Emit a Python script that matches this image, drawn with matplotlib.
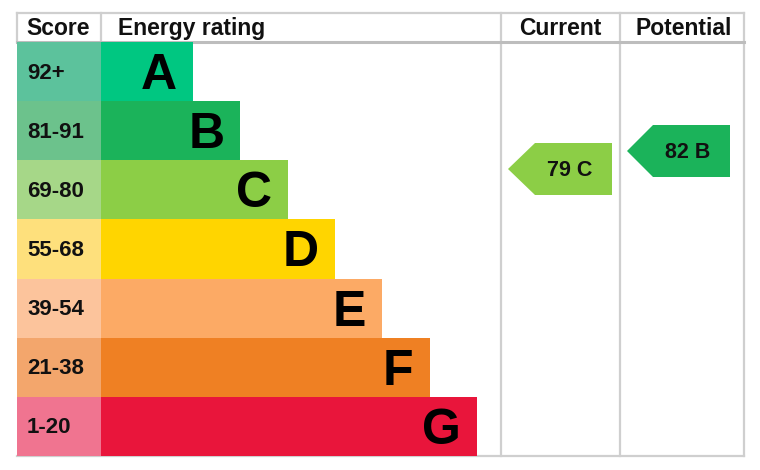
import matplotlib
matplotlib.use("Agg")
import matplotlib.pyplot as plt
from matplotlib.patches import Rectangle, Polygon

plt.rcParams['font.family'] = ['Liberation Sans', 'DejaVu Sans']

# ---- data ----
bands = ["A", "B", "C", "D", "E", "F", "G"]
score_ranges = ["92+", "81-91", "69-80", "55-68", "39-54", "21-38", "1-20"]
bar_colors = ["#00c781", "#1bb35a", "#8cce46", "#ffd500", "#fcaa65", "#ef8023", "#e9153b"]
score_colors = ["#5cc29c", "#6cc28c", "#a6d788", "#fee07c", "#fcc49c", "#f3a66c", "#f07490"]
current_score = 79
current_band = "C"
potential_score = 82
potential_band = "B"
headers = ["Score", "Energy rating", "Current", "Potential"]

# ---- layout (pixels) ----
W, H = 760, 470
left, top, right, bottom = 17, 13, 744, 456
header_bottom = 42
score_right = 101
col1, col2 = 501, 620
row_h = (bottom - header_bottom) / len(bands)
bar_end0, bar_step = 193, 47.3

fig = plt.figure(figsize=(W / 100, H / 100), dpi=100)
ax = fig.add_axes([0, 0, 1, 1])
ax.set_xlim(0, W)
ax.set_ylim(H, 0)
ax.axis("off")

grid = "#cfcfcf"
for x in (col1, col2, right):
    ax.plot([x, x], [top, bottom], color=grid, lw=1.6, zorder=1)
ax.plot([left, left], [top, header_bottom], color=grid, lw=1.6, zorder=1)
ax.plot([score_right, score_right], [top, header_bottom], color=grid, lw=1.6, zorder=1)
ax.plot([left, right], [top, top], color=grid, lw=1.6, zorder=1)
ax.plot([left, right], [header_bottom, header_bottom], color="#bdbdbd", lw=2.2, zorder=1)
ax.plot([left, right], [bottom, bottom], color=grid, lw=1.6, zorder=1)

# headers
hb = 35
hfs = 16.5
ax.text(26, hb, headers[0], fontsize=hfs, fontweight="bold", ha="left", va="baseline", color="#111")
ax.text(118, hb, headers[1], fontsize=hfs, fontweight="bold", ha="left", va="baseline", color="#111")
ax.text((col1 + col2) / 2, hb, headers[2], fontsize=hfs, fontweight="bold", ha="center", va="baseline", color="#111")
ax.text((col2 + right) / 2 + 2, hb, headers[3], fontsize=hfs, fontweight="bold", ha="center", va="baseline", color="#111")

# bands
for i, (b, sr, bc, sc) in enumerate(zip(bands, score_ranges, bar_colors, score_colors)):
    y0 = header_bottom + i * row_h
    yc = y0 + row_h / 2
    x_end = bar_end0 + i * bar_step
    ax.add_patch(Rectangle((left, y0), score_right - left, row_h, facecolor=sc, edgecolor="none", zorder=2))
    ax.add_patch(Rectangle((score_right, y0), x_end - score_right, row_h, facecolor=bc, edgecolor="none", zorder=2))
    ax.text(27, yc + 7, sr, fontsize=16, fontweight="bold", ha="left", va="baseline", color="#111", zorder=3)
    ax.text(x_end - 16, yc + 17.5, b, fontsize=36, fontweight="bold", ha="right", va="baseline", color="#000", zorder=3)


def score_y(s):
    return 169 - (s - 79) * 6.0


def arrow(x_tip, x_body, x_right, yc, color, label):
    h = 26
    pts = [(x_tip, yc), (x_body, yc - h), (x_right, yc - h), (x_right, yc + h), (x_body, yc + h)]
    ax.add_patch(Polygon(pts, closed=True, facecolor=color, edgecolor="none", zorder=3))
    ax.text((x_body + x_right) / 2 - 4, yc + 7.5, label, fontsize=15.5, fontweight="bold", ha="center", va="baseline", color="#111", zorder=4)


arrow(508, 535, 612, score_y(current_score), bar_colors[bands.index(current_band)], f"{current_score} {current_band}")
arrow(627, 653, 730, score_y(potential_score), bar_colors[bands.index(potential_band)], f"{potential_score} {potential_band}")

fig.savefig("out.png", dpi=100)
